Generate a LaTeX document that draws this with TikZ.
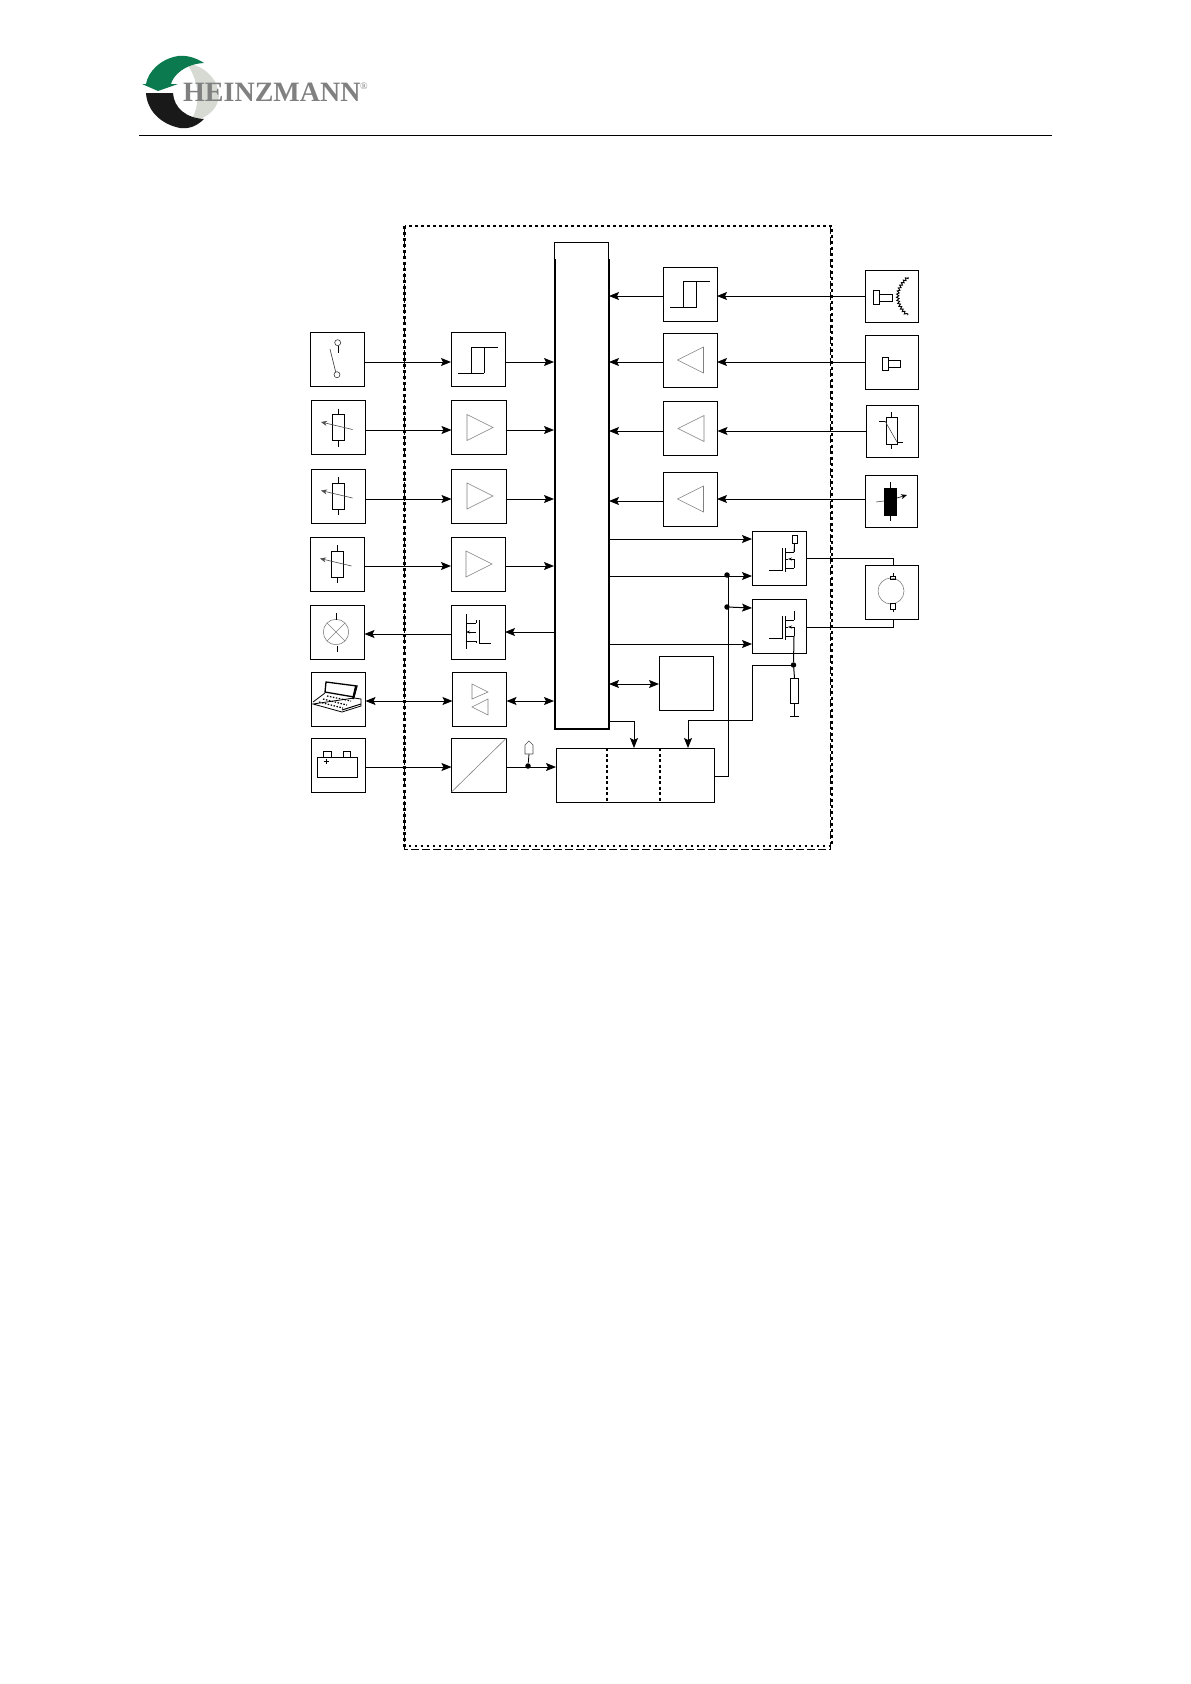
\documentclass[tikz,border=0pt]{standalone}
\usepackage{fontspec}
\newfontfamily\logofont{Liberation Serif}
\usepackage{tikz}
\usetikzlibrary{arrows.meta,decorations.pathmorphing}

\definecolor{logogreen}{HTML}{0B7A4E}
\definecolor{logogray}{HTML}{D6DAD3}
\definecolor{logotext}{HTML}{808080}

\tikzset{
    box/.style={draw, line width=1pt, outer sep=0pt, inner sep=0pt, minimum width=#1, minimum height=54pt},
    box/.default=54pt,
    sig/.style={line width=1pt, -{Stealth[length=10pt,width=8pt,inset=2pt]}},
    sigboth/.style={line width=1pt, {Stealth[length=10pt,width=8pt,inset=2pt]}-{Stealth[length=10pt,width=8pt,inset=2pt]}},
    wire/.style={line width=1pt},
    thinline/.style={line width=0.8pt},
    faint/.style={line width=0.6pt, gray},
    dot/.style={circle, fill, inner sep=0pt, minimum size=5.5pt},
    hyst/.pic={
        \draw[thinline] (-20,13.5) -- (6,13.5) (-7,13.5) -- (-7,-12.5) -- (20,-12.5) (6,-12.5) -- (6,13.5);
    },
    ampright/.pic={
        \draw[faint] (-12,-13) -- (14,0) -- (-12,13) -- cycle;
    },
    ampleft/.pic={
        \draw[faint] (13.5,-13) -- (-12.5,0) -- (13.5,13) -- cycle;
    },
    potmeter/.pic={
        \draw[thinline] (-6,-13) rectangle (6,13) (0,-19) -- (0,-13) (0,13) -- (0,19);
        \draw[faint, -{Stealth[length=6pt,width=5pt]}, black!70] (14,2) -- (-17.5,-5.5);
    },
    fetleft/.pic={
        \draw[thinline] (1,-12) -- (1,11) -- (13,11) (-12,-18) -- (-12,17);
        \draw[thinline] (-12,-9) -- (-2,-9) (-12,9) -- (-2,9) (-2,-12) -- (-2,-9) (-2,9) -- (-2,11);
        \draw[thinline, -{Stealth[length=4pt,width=3pt]}] (-2,0) -- (-12,0);
    },
    fetright/.pic={
        \draw[thinline] (-10,12) -- (3,12) -- (3,-10) (6,-10) -- (6,14);
        \draw[thinline] (6,-6) -- (15,-6) (15,-6) -- (15,-15) (6,10) -- (15,10);
        \draw[thinline, {Stealth[length=4pt,width=3pt]}-] (9,1) -- (15,1) -- (15,10);
        \draw[thinline] (6,1) -- (9,1);
    }
}

\begin{document}
\begin{tikzpicture}[x=1pt,y=-1pt]

    \useasboundingbox (0,0) rectangle (1191,1684);

    % Logo
    \fill[logogray] (186,63) .. controls (207,66) and (219,82) .. (219,96) .. controls (218,110) and (205,120) .. (190,121) .. controls (201,108) and (200,80) .. (186,63) -- cycle;
    \fill[logogreen] (204,63) .. controls (195,57) and (185,55) .. (178,56) .. controls (160,59) and (148,72) .. (146,84) -- (142,84) -- (158,91) -- (178,84) -- (171,84) .. controls (173,76) and (184,64) .. (204,63) -- cycle;
    \fill[black!90] (146,93) -- (173,93) .. controls (174,108) and (186,118) .. (204,119) .. controls (196,127) and (188,129) .. (180,128) .. controls (160,124) and (147,110) .. (146,93) -- cycle;
    \node[anchor=base west, inner sep=0pt, text=logotext] (logotitle) at (183,101) {\logofont\bfseries\fontsize{28}{28}\selectfont HEINZMANN};
    \node[anchor=base west, inner sep=0pt, text=logotext] (logomark) at (360,89) {\logofont\fontsize{10}{10}\selectfont ®};

    % Kopflinie
    \draw[line width=1pt] (139,135) -- (1052,135);

    % Rahmen
    \draw[line width=0.8pt, dash pattern=on 8pt off 3pt] (830,226) -- (830,849) -- (404.5,849) -- (404.5,226);
    \draw[line width=2.8pt, dash pattern=on 2.8pt off 3.2pt] (404.5,226) rectangle (832,846);

    % Bus
    \node[box=55pt, draw=none, minimum height=487pt] (bus) at (581.5,485.5) {};
    \draw[line width=0.9pt] (554.5,259) -- (554.5,242) -- (608.5,242) -- (608.5,259);
    \draw[line width=2pt] (554.5,259) -- (554.5,729) -- (608.5,729) -- (608.5,259);

    % linke Spalte
    \node[box] (switch) at (337.5,359.5) {};
    \node[box] (potA) at (338.5,427.5) {};
    \node[box] (potB) at (338.5,496) {};
    \node[box] (potC) at (337.5,564) {};
    \node[box] (lamp) at (337.5,632) {};
    \node[box] (laptop) at (338.5,699) {};
    \node[box] (battery) at (338.5,765) {};

    \node[box] (hystA) at (478,359.5) {};
    \node[box=55pt] (ampA) at (479,427.5) {};
    \node[box=55pt] (ampB) at (479,496) {};
    \node[box] (ampC) at (478,564) {};
    \node[box] (fetL) at (478,632) {};
    \node[box] (transceiver) at (479.5,699) {};
    \node[box=55pt] (converter) at (479,765) {};

    % rechte Spalte
    \node[box] (hystB) at (690,294) {};
    \node[box] (ampD) at (690,360) {};
    \node[box] (ampE) at (690.5,428.5) {};
    \node[box] (ampF) at (690,499) {};
    \node[box] (memory) at (686,683) {};
    \node[box] (fetA) at (779,558) {};
    \node[box] (fetB) at (779,626) {};

    \node[box=53pt, minimum height=52pt] (pickupA) at (891.5,296) {};
    \node[box=53pt] (pickupB) at (891.5,362.5) {};
    \node[box=52pt, minimum height=52pt] (thermo) at (892,431) {};
    \node[box=52pt, minimum height=52pt] (actuator) at (891,501) {};
    \node[box=53pt] (motor) at (891.5,592.5) {};

    % Versorgung
    \node[draw, line width=1pt, outer sep=0pt, inner sep=0pt, minimum width=158pt, minimum height=54pt] (supply) at (635,775) {};
    \draw[line width=1.2pt, dash pattern=on 3pt off 2.5pt] (607,748) -- (607,802) (660,748) -- (660,802);

    % Symbole
    \pic at (hystA.center) {hyst};
    \pic at (hystB.center) {hyst};
    \foreach \amp in {ampA,ampB,ampC} {\pic at (\amp.center) {ampright};}
    \foreach \amp in {ampD,ampE,ampF} {\pic at (\amp.center) {ampleft};}
    \foreach \pot in {potA,potB,potC} {\pic at (\pot.center) {potmeter};}
    \pic at (fetL.center) {fetleft};
    \pic at (fetA.center) {fetright};
    \pic at (fetB.center) {fetright};

    % Schalter
    \draw[faint, black!80] (337.7,342.7) circle (3) (337,374.7) circle (3) (330,349) -- (335.7,372);
    \draw[thinline] (338,346) -- (338,353);

    % Lampe
    \draw[faint] (336,632) circle (12.7) (327,623) -- (345,641) (327,641) -- (345,623);
    \draw[thinline] (336,613) -- (336,620) (337,646) -- (337,652);

    % Laptop
    \draw[line width=1.3pt] (326,682) -- (357,686) -- (354,697) -- (325,692) -- cycle;
    \draw[line width=2pt] (356,686) -- (353,699);
    \draw[thinline] (313,702) -- (325,693) (354,698) -- (361,699) -- (361,706) -- (342,712) -- (313,704) -- cycle;
    \draw[line width=1.2pt, dash pattern=on 1.5pt off 1.5pt] (319,702) -- (343,708) (323,699) -- (347,705) (327,696) -- (351,701);
    \draw[line width=1pt] (342,710) -- (361,704);

    % Wandler
    \draw[faint] (converter.south west) -- (converter.north east);

    % Sender und Empfaenger
    \draw[faint] (472,684) -- (488,692) -- (472,699) -- cycle (488,699) -- (472,707) -- (488,715) -- cycle;

    % Batterie
    \draw[thinline] (317,757) rectangle (357,777) (323,757) -- (323,751) -- (331,751) -- (331,757) (343,757) -- (343,751) -- (350,751) -- (350,757);
    \draw[line width=1pt] (323.5,761) -- (328.5,761) (326,758.5) -- (326,763.5);

    % Aufnehmer
    \draw[thinline] (873,290) rectangle (879,304) (879,294) rectangle (892,301);
    \draw[line width=0.9pt, decorate, decoration={snake, segment length=3pt, amplitude=1.2pt}] (908,277) .. controls (895,289) and (895,303) .. (908,315);
    \draw[thinline] (882,357) rectangle (888,370) (888,360) rectangle (900,367);

    % Temperaturfuehler
    \draw[thinline] (886,417) rectangle (897,444) (891.5,412) -- (891.5,417) (891.5,444) -- (891.5,449);
    \draw[thinline] (879,421) -- (885,421);
    \draw[faint, black!70] (885,421) -- (897,442);
    \draw[thinline] (897,442) -- (903,442);

    % Stellglied
    \fill (884,488) rectangle (897,516);
    \draw[thinline] (890,482) -- (890,488) (890,516) -- (890,521);
    \draw[faint, black!70] (876,502) -- (884,501);
    \draw[faint, black!70, -{Stealth[length=6pt,width=5pt]}, black] (897,498) -- (907,495);

    % Motor
    \draw[faint] (891,591) circle (13);
    \draw[thinline] (890.5,576) rectangle (895.5,579.5) (893,573) -- (893,576) (890.5,603) rectangle (895.5,609) (893,609) -- (893,612);

    % Widerstand
    \node[draw, thinline, outer sep=0pt, inner sep=0pt, minimum width=8.5pt, minimum height=25pt] (shunt) at (794.5,690.5) {};
    \node[draw, thinline, outer sep=0pt, inner sep=0pt, minimum width=5pt, minimum height=8pt] (gateres) at (794.5,539) {};
    \coordinate (earth) at (794.5,716);
    \draw[thinline] (shunt.south) -- (earth) (790,716) -- (799,716);
    \draw[thinline] (gateres.south) -- (794,552);

    % Versorgungsspannung
    \node[dot] (nodeU) at (528,766) {};
    \coordinate (termU) at (529,754);
    \draw[thinline] (nodeU) -- (termU);
    \draw[faint, black!70] (525,754) -- (533,754) -- (533,745) -- (529,741) -- (525,745) -- cycle;

    % Leitungen links
    \draw[sig] (switch.east |- 0,362) -- (hystA.west |- 0,362);
    \draw[sig] (hystA.east |- 0,362) -- (bus.west |- 0,362);
    \draw[sig] (potA.east |- 0,430) -- (ampA.west |- 0,430);
    \draw[sig] (ampA.east |- 0,430) -- (bus.west |- 0,430);
    \draw[sig] (potB.east |- 0,499) -- (ampB.west |- 0,499);
    \draw[sig] (ampB.east |- 0,499) -- (bus.west |- 0,499);
    \draw[sig] (potC.east |- 0,566) -- (ampC.west |- 0,566);
    \draw[sig] (ampC.east |- 0,566) -- (bus.west |- 0,566);
    \draw[sig] (fetL.west |- 0,634) -- (lamp.east |- 0,634);
    \draw[sig] (bus.west |- 0,632) -- (fetL.east |- 0,632);
    \draw[sigboth] (laptop.east |- 0,701) -- (transceiver.west |- 0,701);
    \draw[sigboth] (transceiver.east |- 0,701) -- (bus.west |- 0,701);
    \draw[sig] (battery.east |- 0,767) -- (converter.west |- 0,767);
    \draw[sig] (converter.east |- 0,767) -- (supply.west |- 0,767);

    % Leitungen rechts
    \draw[sig] (pickupA.west |- 0,296) -- (hystB.east |- 0,296);
    \draw[sig] (hystB.west |- 0,296) -- (bus.east |- 0,296);
    \draw[sig] (pickupB.west |- 0,362) -- (ampD.east |- 0,362);
    \draw[sig] (ampD.west |- 0,362) -- (bus.east |- 0,362);
    \draw[sig] (thermo.west |- 0,431) -- (ampE.east |- 0,431);
    \draw[sig] (ampE.west |- 0,431) -- (bus.east |- 0,431);
    \draw[sig] (actuator.west |- 0,499) -- (ampF.east |- 0,499);
    \draw[sig] (ampF.west |- 0,501) -- (bus.east |- 0,501);

    % Endstufe
    \draw[sig] (bus.east |- 0,539) -- (fetA.west |- 0,539);
    \draw[sig] (bus.east |- 0,576) -- (fetA.west |- 0,576);
    \draw[sig] (bus.east |- 0,644) -- (fetB.west |- 0,644);
    \draw[sigboth] (bus.east |- 0,684) -- (memory.west |- 0,684);

    \node[dot] (nodeA) at (727,575) {};
    \node[dot] (nodeB) at (727,607) {};
    \node[dot] (nodeC) at (793.5,665) {};
    \draw[wire] (supply.east |- 0,776) -- (728,776) -- (728,575);
    \draw[sig] (nodeB) -- (fetB.west |- 0,608);
    \draw[wire] (fetA.east |- 0,558) -- (893.5,558) -- (motor.north -| 893.5,0);
    \draw[wire] (fetB.east |- 0,627) -- (893.5,627) -- (motor.south -| 893.5,0);
    \draw[wire] (794,636) -- (nodeC);
    \draw[wire] (nodeC) -- (shunt.north);
    \draw[sig] (nodeC) -- (752,665) -- (752,720) -- (688,720) -- (supply.north -| 688,0);
    \draw[sig] (bus.east |- 0,721) -- (634,721) -- (supply.north -| 634,0);

\end{tikzpicture}
\end{document}
